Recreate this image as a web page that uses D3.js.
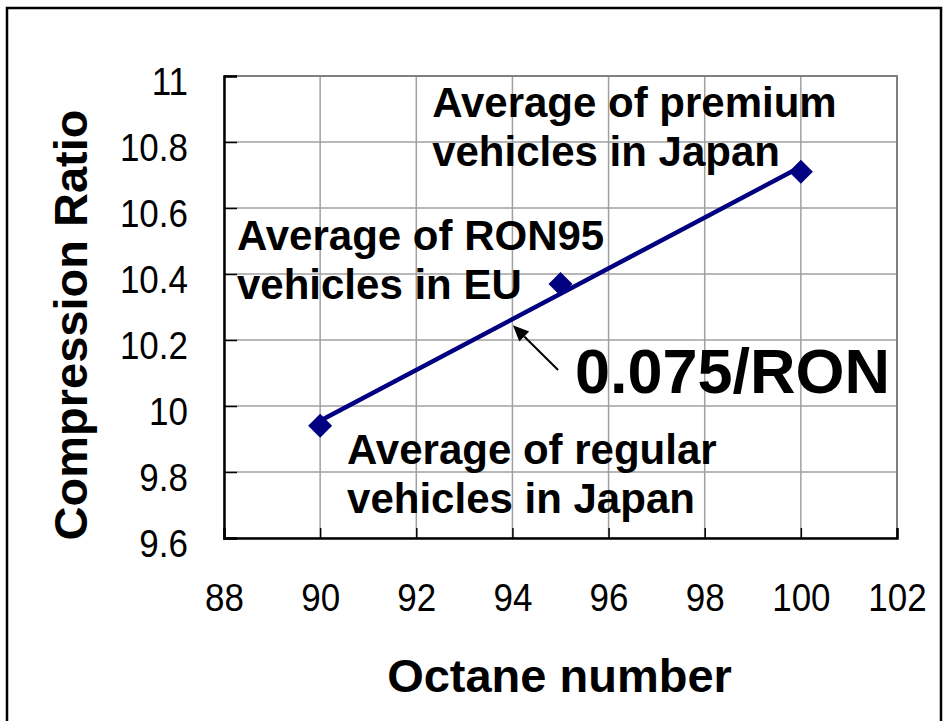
<!DOCTYPE html>
<html>
<head>
<meta charset="utf-8">
<script src="https://cdn.jsdelivr.net/npm/d3@7"></script>
<style>
html,body{margin:0;padding:0;background:#fff;}
svg{display:block;}
text{font-family:"Liberation Sans",Arial,sans-serif;}
</style>
</head>
<body>
<svg id="chart" width="952" height="721"></svg>
<script>
// Data
const octane = [90, 95, 100];
const compression = [9.94, 10.37, 10.71];
const xTicks = [88, 90, 92, 94, 96, 98, 100, 102];
const yTicks = [9.6, 9.8, 10, 10.2, 10.4, 10.6, 10.8, 11];
const annotations = [
  {lines: ["Average of premium", "vehicles in Japan"], x: 92.33, y: 10.876},
  {lines: ["Average of RON95", "vehicles in EU"], x: 88.27, y: 10.473},
  {lines: ["Average of regular", "vehicles in Japan"], x: 90.56, y: 9.824}
];
const slopeLabel = "0.075/RON";
const slopeLabelPos = [95.30, 10.039];
const arrowFrom = [94.95, 10.109];
const arrowTo = [94.01, 10.245];

const svg = d3.select("#chart");
const m = {left: 224, top: 76, right: 897, bottom: 538};
const x = d3.scaleLinear().domain([88, 102]).range([m.left, m.right]);
const y = d3.scaleLinear().domain([9.6, 11]).range([m.bottom, m.top]);

// outer frame
svg.append("rect").attr("x", 7).attr("y", 8).attr("width", 934).attr("height", 730)
  .attr("fill", "none").attr("stroke", "#000").attr("stroke-width", 2.5);

// gridlines
const grid = svg.append("g");
grid.selectAll("line.v").data(xTicks).join("line")
  .attr("x1", d => x(d)).attr("x2", d => x(d)).attr("y1", m.top).attr("y2", m.bottom)
  .attr("stroke", "#a0a0a0").attr("stroke-width", 1.5);
grid.selectAll("line.h").data(yTicks).join("line")
  .attr("y1", d => y(d)).attr("y2", d => y(d)).attr("x1", m.left).attr("x2", m.right)
  .attr("stroke", "#a0a0a0").attr("stroke-width", 1.5);

// top/right border
svg.append("path").attr("d", `M${m.left},${m.top}H${m.right}V${m.bottom}`)
  .attr("fill", "none").attr("stroke", "#808080").attr("stroke-width", 2);

// axes
const xAxis = svg.append("g").attr("transform", `translate(0,${m.bottom})`)
  .call(d3.axisBottom(x).tickValues(xTicks).tickSize(-10).tickPadding(48).tickFormat(d3.format("d")));
const yAxis = svg.append("g").attr("transform", `translate(${m.left},0)`)
  .call(d3.axisLeft(y).tickValues(yTicks).tickSize(-13).tickPadding(36).tickFormat(d => d3.format("")(+d.toFixed(1))));
[xAxis, yAxis].forEach(a => {
  a.select(".domain").attr("stroke", "#000").attr("stroke-width", 2.5);
  a.selectAll(".tick line").attr("stroke", "#000").attr("stroke-width", 1.5);
  a.selectAll(".tick text").attr("font-size", 35).attr("fill", "#000")
    .attr("font-family", "'Liberation Sans', Arial, sans-serif");
});
xAxis.selectAll(".tick text").attr("y", 0).attr("dy", 0)
  .attr("transform", "translate(0,73) scale(1,1.12)");
yAxis.selectAll(".tick text").attr("dy", 16.5).attr("transform", "scale(1,1.12)");

// regression line
const mx = d3.mean(octane), my = d3.mean(compression);
const slope = d3.sum(octane.map((v, i) => (v - mx) * (compression[i] - my))) / d3.sum(octane.map(v => (v - mx) ** 2));
const icpt = my - slope * mx;
const xr = d3.extent(octane);
svg.append("line")
  .attr("x1", x(xr[0])).attr("y1", y(icpt + slope * xr[0]))
  .attr("x2", x(xr[1])).attr("y2", y(icpt + slope * xr[1]))
  .attr("stroke", "#000080").attr("stroke-width", 4.5);

// markers
svg.append("g").selectAll("path").data(octane).join("path")
  .attr("transform", (d, i) => `translate(${x(d)},${y(compression[i])})`)
  .attr("d", "M0,-12L12,0L0,12L-12,0Z")
  .attr("fill", "#000080");

// annotations
annotations.forEach(a => {
  const t = svg.append("text").attr("font-size", 42).attr("font-weight", "bold").attr("fill", "#000");
  a.lines.forEach((l, i) => {
    t.append("tspan").attr("x", x(a.x)).attr("y", y(a.y) + i * 49).text(l);
  });
});
svg.append("text").attr("x", x(slopeLabelPos[0])).attr("y", y(slopeLabelPos[1]))
  .attr("font-size", 63).attr("font-weight", "bold").text(slopeLabel);

// arrow
const ax1 = x(arrowFrom[0]), ay1 = y(arrowFrom[1]), ax2 = x(arrowTo[0]), ay2 = y(arrowTo[1]);
const ang = Math.atan2(ay2 - ay1, ax2 - ax1), L = 16, W = 7;
const bx = ax2 - L * Math.cos(ang), by = ay2 - L * Math.sin(ang);
svg.append("line")
  .attr("x1", ax1).attr("y1", ay1).attr("x2", bx).attr("y2", by)
  .attr("stroke", "#000").attr("stroke-width", 2);
svg.append("path")
  .attr("d", `M${ax2},${ay2}L${bx + W * Math.sin(ang)},${by - W * Math.cos(ang)}L${bx - W * Math.sin(ang)},${by + W * Math.cos(ang)}Z`)
  .attr("fill", "#000");

// axis titles
svg.append("text").attr("x", (m.left + m.right) / 2 - 1).attr("y", 692)
  .attr("text-anchor", "middle").attr("font-size", 47).attr("font-weight", "bold").text("Octane number");
svg.append("text").attr("transform", "translate(87,325) rotate(-90)")
  .attr("text-anchor", "middle").attr("font-size", 47).attr("font-weight", "bold").text("Compression Ratio");
</script>
</body>
</html>
